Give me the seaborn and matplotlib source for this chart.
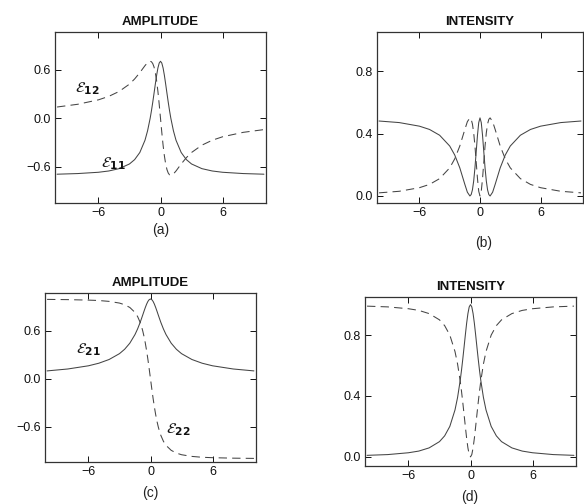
import seaborn as sns
import matplotlib
matplotlib.use("Agg")
import matplotlib.pyplot as plt

# detuning axis (shared by all four panels)
x = [-10, -8, -6, -5, -4, -3, -2.5, -2, -1.5, -1.25, -1, -0.875, -0.75, -0.625, -0.5, -0.375, -0.25, -0.125,
     0, 0.125, 0.25, 0.375, 0.5, 0.625, 0.75, 0.875, 1, 1.25, 1.5, 2, 2.5, 3, 4, 5, 6, 8, 10]

# (a) amplitudes
e11 = [-0.693, -0.685, -0.669, -0.653, -0.624, -0.566, -0.512, -0.424, -0.272, -0.155, 0.0, 0.094, 0.198, 0.310,
       0.424, 0.533, 0.624, 0.685, 0.707, 0.685, 0.624, 0.533, 0.424, 0.310, 0.198, 0.094, 0.0, -0.155, -0.272,
       -0.424, -0.512, -0.566, -0.624, -0.653, -0.669, -0.685, -0.693]
e12 = [0.140, 0.174, 0.229, 0.272, 0.333, 0.424, 0.488, 0.566, 0.653, 0.690, 0.707, 0.701, 0.679, 0.636, 0.566,
       0.465, 0.333, 0.174, 0.0, -0.174, -0.333, -0.465, -0.566, -0.636, -0.679, -0.701, -0.707, -0.690, -0.653,
       -0.566, -0.488, -0.424, -0.333, -0.272, -0.229, -0.174, -0.140]

# (b) intensities
i11 = [0.480, 0.470, 0.447, 0.426, 0.389, 0.320, 0.262, 0.180, 0.074, 0.024, 0.000, 0.009, 0.039, 0.096, 0.180,
       0.284, 0.389, 0.470, 0.500, 0.470, 0.389, 0.284, 0.180, 0.096, 0.039, 0.009, 0.000, 0.024, 0.074, 0.180,
       0.262, 0.320, 0.389, 0.426, 0.447, 0.470, 0.480]
i12 = [0.020, 0.030, 0.053, 0.074, 0.111, 0.180, 0.238, 0.320, 0.426, 0.476, 0.500, 0.491, 0.461, 0.404, 0.320,
       0.216, 0.111, 0.030, 0.000, 0.030, 0.111, 0.216, 0.320, 0.404, 0.461, 0.491, 0.500, 0.476, 0.426, 0.320,
       0.238, 0.180, 0.111, 0.074, 0.053, 0.030, 0.020]

# (c) amplitudes
e21 = [0.100, 0.124, 0.164, 0.196, 0.243, 0.316, 0.371, 0.447, 0.555, 0.625, 0.707, 0.753, 0.800, 0.848, 0.894,
       0.936, 0.970, 0.992, 1.000, 0.992, 0.970, 0.936, 0.894, 0.848, 0.800, 0.753, 0.707, 0.625, 0.555, 0.447,
       0.371, 0.316, 0.243, 0.196, 0.164, 0.124, 0.100]
e22 = [0.995, 0.992, 0.986, 0.981, 0.970, 0.949, 0.928, 0.894, 0.832, 0.781, 0.707, 0.659, 0.600, 0.530, 0.447,
       0.351, 0.243, 0.124, 0.000, -0.124, -0.243, -0.351, -0.447, -0.530, -0.600, -0.659, -0.707, -0.781, -0.832,
       -0.894, -0.928, -0.949, -0.970, -0.981, -0.986, -0.992, -0.995]

# (d) intensities
i21 = [0.010, 0.015, 0.027, 0.038, 0.059, 0.100, 0.138, 0.200, 0.308, 0.390, 0.500, 0.566, 0.640, 0.719, 0.800,
       0.877, 0.941, 0.985, 1.000, 0.985, 0.941, 0.877, 0.800, 0.719, 0.640, 0.566, 0.500, 0.390, 0.308, 0.200,
       0.138, 0.100, 0.059, 0.038, 0.027, 0.015, 0.010]
i22 = [0.990, 0.985, 0.973, 0.962, 0.941, 0.900, 0.862, 0.800, 0.692, 0.610, 0.500, 0.434, 0.360, 0.281, 0.200,
       0.123, 0.059, 0.015, 0.000, 0.015, 0.059, 0.123, 0.200, 0.281, 0.360, 0.434, 0.500, 0.610, 0.692, 0.800,
       0.862, 0.900, 0.941, 0.962, 0.973, 0.985, 0.990]

xticks = [-6, 0, 6]
amp_ticks = [-0.6, 0.0, 0.6]
int_ticks = [0.0, 0.4, 0.8]

sns.set_theme(style="ticks")
plt.rcParams["font.family"] = ["Liberation Sans", "DejaVu Sans"]

fig = plt.figure(figsize=(5.84, 5.04), dpi=100)

W, H = 584, 504
def box(l, t, r, b):
    return [l / W, 1 - b / H, (r - l) / W, (b - t) / H]

panels = [
    # rect, title, solid, dashed, yticks, ylim, tag, tag position
    (box(55, 32, 266, 203), "AMPLITUDE", e11, e12, amp_ticks, (-1.05, 1.07), "(a)", (161, 230)),
    (box(377, 32, 583, 203), "INTENSITY", i11, i12, int_ticks, (-0.045, 1.05), "(b)", (484, 243)),
    (box(45, 293, 256, 462), "AMPLITUDE", e21, e22, amp_ticks, (-1.04, 1.075), "(c)", (150, 493)),
    (box(365, 297, 576, 466), "INTENSITY", i21, i22, int_ticks, (-0.06, 1.05), "(d)", (470, 497)),
]

ink = "#444444"
axes = []
for rect, title, ys, yd, yt, yl, tag, tpos in panels:
    ax = fig.add_axes(rect)
    sns.lineplot(x=x, y=ys, ax=ax, color=ink, lw=0.75)
    sns.lineplot(x=x, y=yd, ax=ax, color=ink, lw=0.75, linestyle=(0, (8, 5)))
    ax.set_xlim(-10.2, 10.2)
    ax.set_ylim(*yl)
    ax.set_xticks(xticks)
    ax.set_yticks(yt)
    ax.set_xticklabels([str(v).replace("-", "\u2212") for v in xticks])
    ax.set_yticklabels([f"{v:.1f}".replace("-", "\u2212") for v in yt])
    ax.tick_params(direction="in", top=True, right=True, length=4, width=0.7,
                   labelsize=9, colors="#111", pad=3)
    for s in ax.spines.values():
        s.set_linewidth(0.9)
        s.set_color("#333")
    ax.set_title(title, fontsize=9.5, fontweight="bold", pad=5, color="#111")
    fig.text(tpos[0] / W, 1 - tpos[1] / H, tag, ha="center", va="center", fontsize=10, color="#222")
    axes.append(ax)

lab = dict(fontsize=11, color="#111", ha="center", va="center")
axes[0].text(-7.1, 0.37, r"$\mathcal{E}_{\mathbf{12}}$", **lab)
axes[0].text(-4.6, -0.56, r"$\mathcal{E}_{\mathbf{11}}$", **lab)
axes[2].text(-6.0, 0.36, r"$\mathcal{E}_{\mathbf{21}}$", **lab)
axes[2].text(2.7, -0.64, r"$\mathcal{E}_{\mathbf{22}}$", **lab)

fig.savefig("out.png", dpi=100, facecolor="white")
